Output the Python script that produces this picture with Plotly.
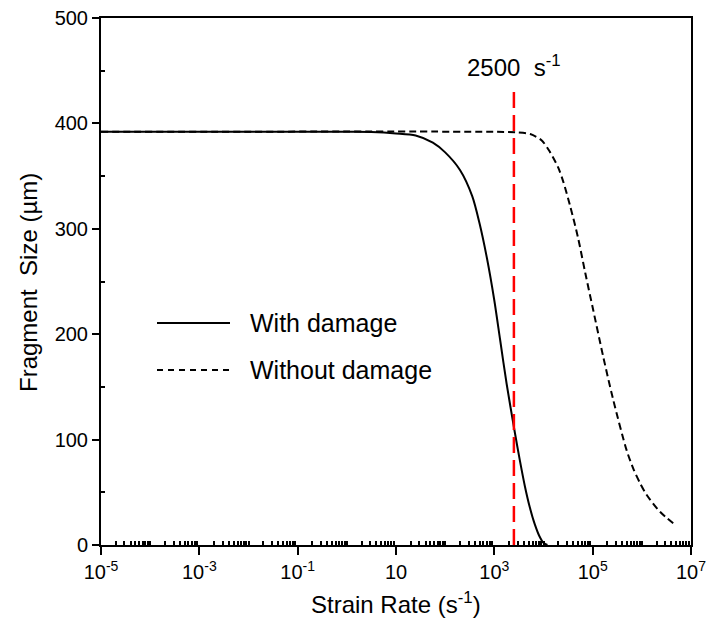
import plotly.graph_objects as go

# Data
with_damage_x = [1e-5, 1.0, 3.16, 10, 25.1, 56.2, 100, 200, 355, 501, 708, 1000, 1318, 1778,
                 2630, 3311, 4169, 5248, 6607, 8318, 10000, 12023]
with_damage_y = [392, 392, 391.8, 390.5, 388.5, 381.7, 372.5, 355.8, 331, 305, 272, 232, 194, 153,
                 106, 80, 56, 36, 20, 8, 2, 0]

without_damage_x = [1e-5, 1e3, 2818, 5370, 9120, 13490, 19950, 25120, 34670, 50120, 70790,
                    1.028e5, 1.641e5, 2.624e5, 4.898e5, 6.761e5, 9.12e5, 1.259e6, 2.344e6, 4.345e6]
without_damage_y = [392, 392, 391.5, 389.9, 384, 373, 358, 345, 322, 292, 258,
                    222.7, 178.6, 137.6, 90, 72, 59, 47.5, 31.5, 20.6]

marker_rate = 2500
marker_y = [0, 430]

x_tickvals = [1e-5, 1e-3, 1e-1, 10, 1e3, 1e5, 1e7]
x_ticktext = ["10<sup>-5</sup>", "10<sup>-3</sup>", "10<sup>-1</sup>", "10",
              "10<sup>3</sup>", "10<sup>5</sup>", "10<sup>7</sup>"]
y_tickvals = [0, 100, 200, 300, 400, 500]

legend_labels = ["With damage", "Without damage"]

FONT = "Liberation Sans, Arial, sans-serif"

L, R, T, B = 101, 17, 18, 85
PW, PH = 708 - L - R, 630 - T - B

minor_x = [n * 10.0 ** k for k in range(-5, 7) for n in range(1, 10)
           if not (n == 1 and k % 2 != 0)]

fig = go.Figure()
fig.add_trace(go.Scatter(x=with_damage_x, y=with_damage_y, mode="lines",
                         line=dict(color="black", width=2, shape="spline", smoothing=0.8),
                         name=legend_labels[0], showlegend=False))
fig.add_trace(go.Scatter(x=without_damage_x, y=without_damage_y, mode="lines",
                         line=dict(color="black", width=2, dash="7px,4px", shape="spline", smoothing=0.8),
                         name=legend_labels[1], showlegend=False))
fig.add_trace(go.Scatter(x=[marker_rate, marker_rate], y=marker_y, mode="lines",
                         line=dict(color="#ff0000", width=2.5, dash="16px,7px"),
                         showlegend=False, hoverinfo="skip"))

# Manual legend (line samples + labels), positions in pixels converted to paper
legend_rows = [(323, "solid"), (370, "6px,5px")]
for (py, dash), label in zip(legend_rows, legend_labels):
    yy = (630 - B - py) / PH
    fig.add_shape(type="line", xref="paper", yref="paper",
                  x0=(157 - L) / PW, x1=(230 - L) / PW, y0=yy, y1=yy,
                  line=dict(color="black", width=2, dash=dash))
    fig.add_annotation(xref="paper", yref="paper", x=(248 - L) / PW, y=yy,
                       text=label, showarrow=False, xanchor="left", yanchor="middle",
                       font=dict(family=FONT, size=25, color="black"))

fig.add_annotation(x=3.398, y=454, xref="x", yref="y",
                   text="2500  s<sup>-1</sup>", showarrow=False,
                   xanchor="center", yanchor="middle",
                   font=dict(family=FONT, size=24, color="black"))

# Axis titles as annotations for precise placement
fig.add_annotation(xref="paper", yref="paper", x=0.5, y=(630 - B - 603) / PH,
                   text="Strain Rate (s<sup>-1</sup>)", showarrow=False,
                   xanchor="center", yanchor="middle",
                   font=dict(family=FONT, size=24, color="black"))
fig.add_annotation(xref="paper", yref="paper", x=(28 - L) / PW, y=(630 - B - 283) / PH,
                   text="Fragment  Size (µm)", showarrow=False, textangle=-90,
                   xanchor="center", yanchor="middle",
                   font=dict(family=FONT, size=24, color="black"))

fig.update_xaxes(type="log", range=[-5, 7], automargin=False,
                 tickmode="array", tickvals=x_tickvals, ticktext=x_ticktext,
                 ticks="outside", ticklen=8, tickwidth=2, tickcolor="black",
                 showline=True, linewidth=2, linecolor="black", mirror=True,
                 showgrid=False, zeroline=False,
                 tickfont=dict(family=FONT, size=20, color="black"),
                 minor=dict(tickmode="array", tickvals=minor_x, ticks="inside",
                            ticklen=4, tickwidth=1.5, tickcolor="black", showgrid=False))
fig.update_yaxes(range=[0, 500], automargin=False, tickmode="array", tickvals=y_tickvals,
                 ticks="outside", ticklen=7, tickwidth=2, tickcolor="black",
                 showline=True, linewidth=2, linecolor="black", mirror=True,
                 showgrid=False, zeroline=False,
                 tickfont=dict(family=FONT, size=20, color="black"),
                 minor=dict(tickmode="array", tickvals=[50, 150, 250, 350, 450], ticks="inside",
                            ticklen=4, tickwidth=1.5, tickcolor="black", showgrid=False))

fig.update_layout(width=708, height=630,
                  margin=dict(l=L, r=R, t=T, b=B),
                  plot_bgcolor="white", paper_bgcolor="white",
                  showlegend=False)

# remove the browser's default 8px body margin so the figure sits at the page origin
fig.write_html("out.html",
               config={"displayModeBar": False},
               post_script="document.body.style.margin='0';document.body.style.overflow='hidden';")
